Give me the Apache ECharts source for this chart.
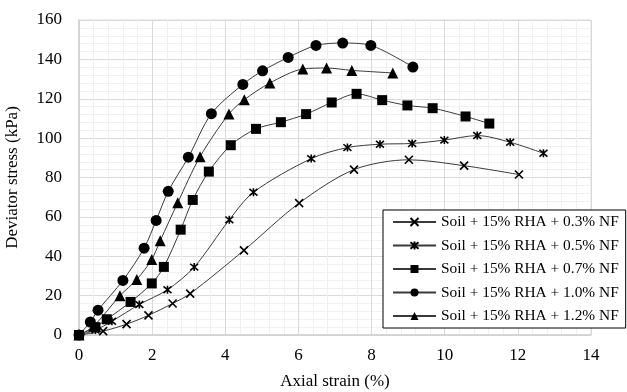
<!DOCTYPE html>
<html>
<head>
<meta charset="utf-8">
<script src="https://cdn.jsdelivr.net/npm/echarts@6/dist/echarts.min.js"></script>
<style>
  html, body { margin: 0; padding: 0; background: #fff; }
  #chart { width: 627px; height: 392px; }
</style>
</head>
<body>
<div id="chart"></div>
<script>
// Axial strain (%) and deviator stress (kPa) for each fibre content
const strain03 = [0, 0.66, 1.3, 1.9, 2.56, 3.04, 4.51, 6.02, 7.52, 9.02, 10.53, 12.03];
const stress03 = [0, 2, 5.5, 10, 16, 21, 43, 67, 84, 89, 86, 81.5];

const strain05 = [0, 0.45, 0.9, 1.65, 2.42, 3.15, 4.11, 4.77, 6.35, 7.34, 8.23, 9.11, 9.99, 10.89, 11.79, 12.70];
const stress05 = [0, 2.5, 7, 15.5, 23, 34.5, 58.5, 72.5, 89.6, 95.2, 96.9, 97.3, 99, 101.3, 97.9, 92.3];

const strain07 = [0, 0.45, 0.76, 1.41, 1.99, 2.32, 2.78, 3.11, 3.55, 4.15, 4.84, 5.52, 6.21, 6.91, 7.59, 8.29, 8.98, 9.67, 10.57, 11.22];
const stress07 = [0, 4, 8, 16.8, 26.2, 34.6, 53.5, 68.6, 83, 96.4, 104.7, 108.1, 112.2, 118.1, 122.5, 119.3, 116.6, 115.2, 111, 107.4];

const strain10 = [0, 0.31, 0.52, 1.2, 1.78, 2.11, 2.44, 2.99, 3.62, 4.48, 5.02, 5.72, 6.48, 7.21, 7.98, 9.13];
const stress10 = [0, 6.6, 12.6, 27.7, 44.1, 58.2, 73, 90.3, 112.4, 127.3, 134.2, 141, 147.1, 148.3, 147.1, 136.1];

const strain12 = [0, 0.4, 1.12, 1.58, 1.99, 2.22, 2.70, 3.31, 4.10, 4.52, 5.22, 6.12, 6.77, 7.46, 8.58];
const stress12 = [0, 4.5, 20, 28.2, 38.4, 47.9, 67.2, 90.6, 112.3, 119.5, 128, 135.1, 135.6, 134.4, 133.1];

const seriesNames = [
  'Soil + 15% RHA + 0.3% NF',
  'Soil + 15% RHA + 0.5% NF',
  'Soil + 15% RHA + 0.7% NF',
  'Soil + 15% RHA + 1.0% NF',
  'Soil + 15% RHA + 1.2% NF'
];

const xTicks = [0, 2, 4, 6, 8, 10, 12, 14];
const yTicks = [0, 20, 40, 60, 80, 100, 120, 140, 160];

function pairs(xs, ys) { return xs.map((x, i) => [x, ys[i]]); }

const crossPath = 'path://M0,0L10,10M10,0L0,10';
const starPath = 'path://M0,0L10,10M10,0L0,10M5,-1L5,11';

const FONT = '"Liberation Serif", "Times New Roman", serif';

function lineSeries(name, data, symbol, size, strokeMarker) {
  return {
    name: name,
    type: 'line',
    data: data,
    smooth: 0.3,
    symbol: symbol,
    symbolSize: size,
    showAllSymbol: true,
    lineStyle: { color: '#3a3a3a', width: 1 },
    itemStyle: strokeMarker
      ? { color: '#000', borderColor: '#000', borderWidth: 1.6 }
      : { color: '#000', borderWidth: 0 },
    emphasis: { disabled: true },
    z: 3
  };
}

const chart = echarts.init(document.getElementById('chart'), null, { renderer: 'canvas' });

chart.setOption({
  animation: false,
  backgroundColor: '#fff',
  grid: {
    left: 79, right: 36, top: 20, bottom: 57,
    containLabel: false,
    outerBoundsMode: 'none',
    show: true, borderColor: '#d9d9d9', borderWidth: 1
  },
  xAxis: {
    type: 'value',
    min: xTicks[0], max: xTicks[xTicks.length - 1], interval: 2,
    name: 'Axial strain (%)',
    nameLocation: 'middle', nameGap: 38,
    nameTextStyle: { fontFamily: FONT, fontSize: 17, color: '#000' },
    axisLine: { show: true, lineStyle: { color: '#d0d0d0', width: 1.5 } },
    axisTick: { show: false },
    axisLabel: { fontFamily: FONT, fontSize: 17, color: '#000', margin: 12 },
    splitLine: { show: true, lineStyle: { color: '#dadada', width: 1 } },
    minorTick: { show: false, splitNumber: 5 },
    minorSplitLine: { show: true, lineStyle: { color: '#f0f0f0', width: 1 } }
  },
  yAxis: {
    type: 'value',
    min: yTicks[0], max: yTicks[yTicks.length - 1], interval: 20,
    name: 'Deviator stress (kPa)',
    nameLocation: 'middle', nameGap: 58,
    nameTextStyle: { fontFamily: FONT, fontSize: 17, color: '#000' },
    axisLine: { show: true, lineStyle: { color: '#d0d0d0', width: 1.5 } },
    axisTick: { show: false },
    axisLabel: { fontFamily: FONT, fontSize: 17, color: '#000', margin: 17 },
    splitLine: { show: true, lineStyle: { color: '#dadada', width: 1 } },
    minorTick: { show: false, splitNumber: 5 },
    minorSplitLine: { show: true, lineStyle: { color: '#f0f0f0', width: 1 } }
  },
  legend: {
    orient: 'vertical',
    left: 383, top: 210,
    padding: [4, 7, 4, 9],
    backgroundColor: '#fff',
    borderColor: '#000', borderWidth: 1,
    itemWidth: 43, itemHeight: 10,
    itemGap: 7.5, itemTextGap: 5,
    textStyle: { fontFamily: FONT, fontSize: 15.4, color: '#000', lineHeight: 16 },
    data: seriesNames
  },
  series: [
    lineSeries(seriesNames[0], pairs(strain03, stress03), crossPath, 8, true),
    lineSeries(seriesNames[1], pairs(strain05, stress05), starPath, 8, true),
    lineSeries(seriesNames[2], pairs(strain07, stress07), 'rect', 10, false),
    lineSeries(seriesNames[3], pairs(strain10, stress10), 'circle', 11, false),
    lineSeries(seriesNames[4], pairs(strain12, stress12), 'triangle', 11, false)
  ]
});
</script>
</body>
</html>
